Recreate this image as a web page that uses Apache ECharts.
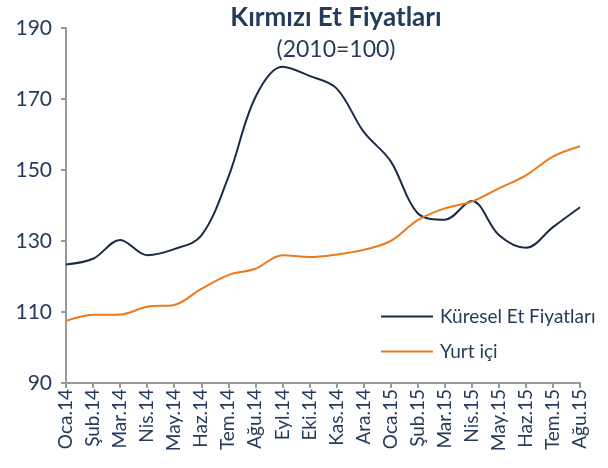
<!DOCTYPE html>
<html>
<head>
<meta charset="utf-8">
<script src="https://cdn.jsdelivr.net/npm/echarts@6/dist/echarts.min.js"></script>
<style>
  html, body { margin: 0; padding: 0; background: #fff; }
  #chart { width: 608px; height: 468px; }
</style>
</head>
<body>
<div id="chart"></div>
<script>
var months = ['Oca.14', 'Şub.14', 'Mar.14', 'Nis.14', 'May.14', 'Haz.14', 'Tem.14', 'Ağu.14', 'Eyl.14', 'Eki.14',
    'Kas.14', 'Ara.14', 'Oca.15', 'Şub.15', 'Mar.15', 'Nis.15', 'May.15', 'Haz.15', 'Tem.15', 'Ağu.15'];
var kuresel = [123.4, 125, 130.3, 126, 127.7, 131.5, 148, 170.5, 179.1, 176.5,
    173, 160.8, 152.5, 137.8, 136, 141.3, 131.7, 128.1, 133.9, 139.5];
var yurtici = [107.5, 109.2, 109.3, 111.5, 112, 116.5, 120.4, 122.2, 126, 125.5,
    126.2, 127.5, 130, 135.9, 139.2, 141.1, 144.8, 148.5, 153.8, 156.7];
var yTicks = [90, 110, 130, 150, 170, 190];

var navy = '#1c2b45';
var orange = '#ec7a1c';
var textColor = '#243b5c';
var font = 'Lato';

var myChart = echarts.init(document.getElementById('chart'));

var option = {
    animation: false,
    title: [
        {
            text: 'Kırmızı Et Fiyatları',
            left: 331,
            top: 0,
            textAlign: 'center',
            textStyle: { fontFamily: font, fontWeight: 'bold', fontSize: 26, color: textColor }
        },
        {
            text: '(2010=100)',
            left: 331,
            top: 33,
            textAlign: 'center',
            textStyle: { fontFamily: font, fontWeight: 'normal', fontSize: 23, color: textColor }
        }
    ],
    legend: {
        orient: 'vertical',
        left: 376,
        top: 302,
        itemWidth: 52,
        itemHeight: 2,
        itemGap: 16,
        icon: 'rect',
        textStyle: { fontFamily: font, fontSize: 19, color: textColor, padding: [0, 0, 0, 2] },
        data: ['Küresel Et Fiyatları', 'Yurt içi']
    },
    grid: { left: 66, right: 28, top: 28, bottom: 85 },
    xAxis: {
        type: 'category',
        boundaryGap: false,
        data: months,
        axisLine: { lineStyle: { color: '#999', width: 2 } },
        axisTick: { length: 5, lineStyle: { color: '#999', width: 2 }, alignWithLabel: true },
        axisLabel: { rotate: 90, interval: 0, fontFamily: font, fontSize: 19, color: textColor, margin: 6 },
        splitLine: { show: false }
    },
    yAxis: {
        type: 'value',
        min: yTicks[0],
        max: yTicks[yTicks.length - 1],
        interval: 20,
        axisLine: { show: true, lineStyle: { color: '#999', width: 2 } },
        axisTick: { show: true, length: 5, lineStyle: { color: '#999', width: 2 } },
        axisLabel: { fontFamily: font, fontSize: 21, color: textColor, margin: 14 },
        splitLine: { show: false }
    },
    series: [
        {
            name: 'Küresel Et Fiyatları',
            type: 'line',
            data: kuresel,
            smooth: 0.35,
            symbol: 'none',
            lineStyle: { color: navy, width: 2 },
            itemStyle: { color: navy }
        },
        {
            name: 'Yurt içi',
            type: 'line',
            data: yurtici,
            smooth: 0.35,
            symbol: 'none',
            lineStyle: { color: orange, width: 2 },
            itemStyle: { color: orange }
        }
    ]
};
myChart.setOption(option);
</script>
</body>
</html>
